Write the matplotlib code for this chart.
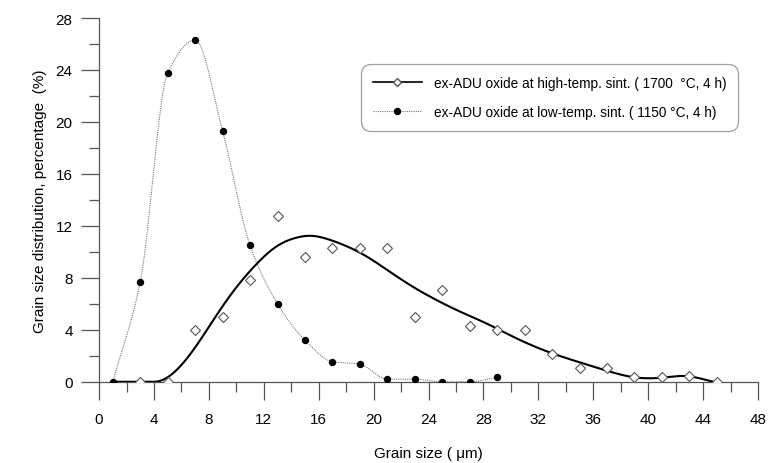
import numpy as np
import matplotlib

matplotlib.use("Agg")
import matplotlib.pyplot as plt
from matplotlib.lines import Line2D
from matplotlib.ticker import MultipleLocator

plt.rcParams["font.family"] = ["Liberation Sans", "DejaVu Sans"]

# measured points, low-temperature sintering (1150 C)
low_x = [1, 3, 5, 7, 9, 11, 13, 15, 17, 19, 21, 23, 25, 27, 29]
low_y = [0, 7.7, 23.8, 26.3, 19.3, 10.5, 6.0, 3.2, 1.55, 1.35, 0.2, 0.2, 0.0, 0.0, 0.35]

# measured points, high-temperature sintering (1700 C)
high_x = [3, 5, 7, 9, 11, 13, 15, 17, 19, 21, 23, 25, 27, 29, 31, 33, 35, 37, 39, 41, 43, 45]
high_y = [0, 0, 3.95, 5.0, 7.8, 12.75, 9.6, 10.3, 10.3, 10.3, 5.0, 7.1, 4.3, 3.97, 3.95,
          2.17, 1.1, 1.1, 0.36, 0.36, 0.48, 0]

# smoothed fit through the high-temperature data
# (flat at zero from 1 to 4, then a smooth hump)
high_fit_x = [1, 4, 5.2, 6.4, 7.1, 9.05, 11.5, 12.9, 14.4, 15.4, 16.6, 17.8, 19.5, 21,
              22.65, 24.35, 26.3, 28.2, 30.2, 32.6, 35, 37, 38.9, 40.9, 42.8, 44.75]
high_fit_y = [0, 0, 0.5, 1.8, 2.8, 5.9, 9.1, 10.4, 11.1, 11.24, 11.0, 10.54, 9.64, 8.6,
              7.45, 6.42, 5.4, 4.5, 3.45, 2.35, 1.5, 0.85, 0.36, 0.31, 0.44, 0]

high_label = "ex-ADU oxide at high-temp. sint. ( 1700  \u00b0C, 4 h)"
low_label = "ex-ADU oxide at low-temp. sint. ( 1150 \u00b0C, 4 h)"


def pchip(x, y, n=500):
    # monotone cubic hermite curve through the points
    x = np.asarray(x, float)
    y = np.asarray(y, float)
    h = np.diff(x)
    delta = np.diff(y) / h
    d = np.zeros_like(y)
    d[0], d[-1] = delta[0], delta[-1]
    for k in range(1, len(x) - 1):
        if delta[k - 1] * delta[k] > 0:
            w1 = 2 * h[k] + h[k - 1]
            w2 = h[k] + 2 * h[k - 1]
            d[k] = (w1 + w2) / (w1 / delta[k - 1] + w2 / delta[k])
    xs = np.linspace(x[0], x[-1], n)
    idx = np.clip(np.searchsorted(x, xs) - 1, 0, len(x) - 2)
    t = (xs - x[idx]) / h[idx]
    h00 = 2 * t**3 - 3 * t**2 + 1
    h10 = t**3 - 2 * t**2 + t
    h01 = -2 * t**3 + 3 * t**2
    h11 = t**3 - t**2
    ys = h00 * y[idx] + h10 * h[idx] * d[idx] + h01 * y[idx + 1] + h11 * h[idx] * d[idx + 1]
    return xs, ys


def clamped_spline(x, y, d0, dn, n=500):
    # C2 cubic spline with given end slopes
    x = np.asarray(x, float)
    y = np.asarray(y, float)
    m = len(x)
    h = np.diff(x)
    delta = np.diff(y) / h
    A = np.zeros((m, m))
    b = np.zeros(m)
    A[0, 0], A[0, 1] = 2 * h[0], h[0]
    b[0] = 6 * (delta[0] - d0)
    for i in range(1, m - 1):
        A[i, i - 1] = h[i - 1]
        A[i, i] = 2 * (h[i - 1] + h[i])
        A[i, i + 1] = h[i]
        b[i] = 6 * (delta[i] - delta[i - 1])
    A[-1, -2], A[-1, -1] = h[-1], 2 * h[-1]
    b[-1] = 6 * (dn - delta[-1])
    M = np.linalg.solve(A, b)
    xs = np.linspace(x[0], x[-1], n)
    i = np.clip(np.searchsorted(x, xs) - 1, 0, m - 2)
    a = x[i + 1] - xs
    c = xs - x[i]
    hi = h[i]
    ys = (M[i] * a**3 + M[i + 1] * c**3) / (6 * hi) \
        + (y[i] / hi - M[i] * hi / 6) * a + (y[i + 1] / hi - M[i + 1] * hi / 6) * c
    return xs, ys


fig = plt.figure(figsize=(7.68, 4.64), dpi=100)
ax = fig.add_axes([0.129, 0.175, 0.858, 0.784])

sx, sy = clamped_spline(high_fit_x[1:], high_fit_y[1:], 0.0, -0.25)
fx = np.concatenate([high_fit_x[:1], sx])
fy = np.concatenate([high_fit_y[:1], sy])
ax.plot(fx, fy, color="black", lw=1.5, zorder=3)
ax.plot(high_x, high_y, ls="none", marker="D", ms=5.5, mfc="white", mec="#555555",
        mew=0.8, zorder=4)

lx, ly = pchip(low_x, low_y)
ax.plot(lx, ly, color="#777777", lw=0.8, ls=(0, (1, 1)), zorder=2)
ax.plot(low_x, low_y, ls="none", marker="o", ms=4.3, color="black", zorder=4)

ax.set_xlim(0, 48)
ax.set_ylim(0, 28)
ax.xaxis.set_major_locator(MultipleLocator(4))
ax.xaxis.set_minor_locator(MultipleLocator(2))
ax.yaxis.set_major_locator(MultipleLocator(4))
ax.yaxis.set_minor_locator(MultipleLocator(2))
for side in ("top", "right"):
    ax.spines[side].set_visible(False)
for side in ("left", "bottom"):
    ax.spines[side].set_color("#555555")
    ax.spines[side].set_linewidth(0.9)
ax.tick_params(which="major", length=13, width=0.9, color="#555555", labelsize=11)
ax.tick_params(which="minor", length=7, width=0.9, color="#555555")
ax.tick_params(axis="x", which="major", pad=9)
ax.tick_params(axis="y", which="major", pad=6)

ax.set_xlabel("Grain size ( \u03bcm)", fontsize=11, labelpad=14)
ax.set_ylabel("Grain size distribution, percentage  (%)", fontsize=11, labelpad=6)

handles = [
    Line2D([], [], color="black", lw=1.2, marker="D", ms=4, mfc="white", mec="#555555"),
    Line2D([], [], color="#777777", lw=0.8, ls=(0, (1, 1)), marker="o", ms=4.3,
           mfc="black", mec="black"),
]
leg = ax.legend(handles, [high_label, low_label], loc="upper left",
                bbox_to_anchor=(361 / 768, 1 - 65 / 464), bbox_transform=fig.transFigure,
                fontsize=9.8, frameon=True, fancybox=True, handlelength=3.6,
                handletextpad=0.9, labelspacing=1.15, borderpad=0.85, borderaxespad=0)
frame = leg.get_frame()
frame.set_boxstyle("round,pad=0,rounding_size=0.75")
frame.set_edgecolor("#888888")
frame.set_linewidth(0.9)

fig.savefig("out.png", dpi=100)
